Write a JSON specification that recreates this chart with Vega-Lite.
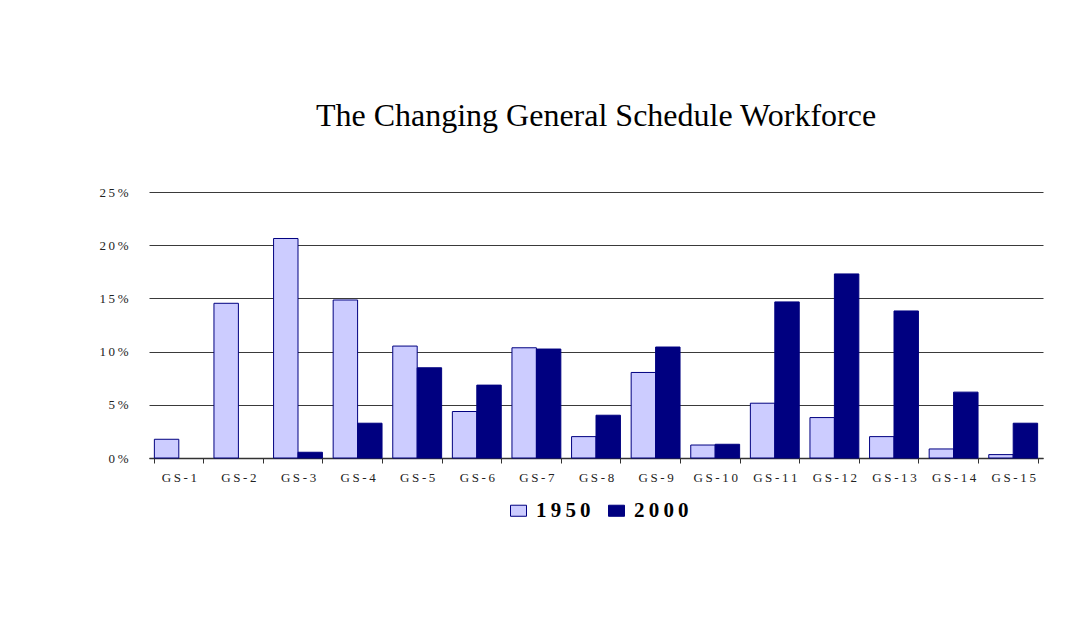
{
  "$schema": "https://vega.github.io/schema/vega-lite/v6.json",
  "width": 894,
  "height": 266,
  "autosize": {"type": "none"},
  "padding": {"left": 149, "top": 192, "right": 46, "bottom": 165},
  "background": "white",
  "title": {
    "text": "The Changing General Schedule Workforce",
    "font": "Liberation Serif",
    "fontSize": 32,
    "fontWeight": "normal",
    "color": "black",
    "anchor": "middle",
    "frame": "group",
    "offset": 53
  },
  "data": {
    "values": [
      {"grade": "GS-1", "year": "1950", "share": 0.0176},
      {"grade": "GS-1", "year": "2000", "share": 0.0},
      {"grade": "GS-2", "year": "1950", "share": 0.1454},
      {"grade": "GS-2", "year": "2000", "share": 0.0},
      {"grade": "GS-3", "year": "1950", "share": 0.2063},
      {"grade": "GS-3", "year": "2000", "share": 0.0054},
      {"grade": "GS-4", "year": "1950", "share": 0.1485},
      {"grade": "GS-4", "year": "2000", "share": 0.0327},
      {"grade": "GS-5", "year": "1950", "share": 0.1052},
      {"grade": "GS-5", "year": "2000", "share": 0.0848},
      {"grade": "GS-6", "year": "1950", "share": 0.0437},
      {"grade": "GS-6", "year": "2000", "share": 0.0685},
      {"grade": "GS-7", "year": "1950", "share": 0.1036},
      {"grade": "GS-7", "year": "2000", "share": 0.1024},
      {"grade": "GS-8", "year": "1950", "share": 0.0201},
      {"grade": "GS-8", "year": "2000", "share": 0.0402},
      {"grade": "GS-9", "year": "1950", "share": 0.0804},
      {"grade": "GS-9", "year": "2000", "share": 0.1043},
      {"grade": "GS-10", "year": "1950", "share": 0.0122},
      {"grade": "GS-10", "year": "2000", "share": 0.0129},
      {"grade": "GS-11", "year": "1950", "share": 0.0515},
      {"grade": "GS-11", "year": "2000", "share": 0.1467},
      {"grade": "GS-12", "year": "1950", "share": 0.038},
      {"grade": "GS-12", "year": "2000", "share": 0.173},
      {"grade": "GS-13", "year": "1950", "share": 0.0201},
      {"grade": "GS-13", "year": "2000", "share": 0.1382},
      {"grade": "GS-14", "year": "1950", "share": 0.0085},
      {"grade": "GS-14", "year": "2000", "share": 0.0619},
      {"grade": "GS-15", "year": "1950", "share": 0.0032},
      {"grade": "GS-15", "year": "2000", "share": 0.0327}
    ]
  },
  "mark": {"type": "bar", "stroke": "#000080", "strokeWidth": 1},
  "encoding": {
    "x": {
      "field": "grade",
      "type": "nominal",
      "sort": null,
      "scale": {"paddingInner": 0.18, "paddingOuter": 0.09},
      "axis": {
        "title": null,
        "labelAngle": 0,
        "labelFont": "Liberation Serif",
        "labelFontSize": 13,
        "labelColor": "#222",
        "labelPadding": 8,
        "labelExpr": "join(split(datum.label, ''), '\u2009')",
        "tickBand": "extent",
        "tickSize": 5,
        "tickColor": "#333",
        "domainColor": "#333",
        "domainWidth": 1.5,
        "grid": false
      }
    },
    "xOffset": {"field": "year", "type": "nominal"},
    "y": {
      "field": "share",
      "type": "quantitative",
      "scale": {"domain": [0, 0.25], "nice": false},
      "axis": {
        "title": null,
        "values": [0, 0.05, 0.1, 0.15, 0.2, 0.25],
        "format": ".0%",
        "labelExpr": "join(split(datum.label, ''), '\u2009')",
        "labelFont": "Liberation Serif",
        "labelFontSize": 13,
        "labelColor": "#222",
        "labelPadding": 21,
        "domain": false,
        "ticks": false,
        "grid": true,
        "gridColor": "#3a3a3a",
        "gridWidth": 1.2
      }
    },
    "strokeOpacity": {
      "condition": {"test": "datum.share > 0", "value": 1},
      "value": 0
    },
    "fill": {
      "field": "year",
      "type": "nominal",
      "scale": {"domain": ["1950", "2000"], "range": ["#CCCCFF", "#000080"]},
      "legend": {
        "title": null,
        "orient": "none",
        "legendX": 359,
        "legendY": 308,
        "direction": "horizontal",
        "labelFont": "Liberation Serif",
        "labelFontSize": 21,
        "labelFontWeight": "bold",
        "labelColor": "black",
        "labelExpr": "join(split(datum.label, ''), '\u2009')",
        "labelOffset": 7,
        "columnPadding": 15,
        "symbolType": "M-1,-0.69H1V0.69H-1Z",
        "symbolSize": 256,
        "symbolStrokeColor": "#000080",
        "symbolStrokeWidth": 1,
        "symbolOpacity": 1
      }
    }
  },
  "config": {"view": {"stroke": null}}
}
